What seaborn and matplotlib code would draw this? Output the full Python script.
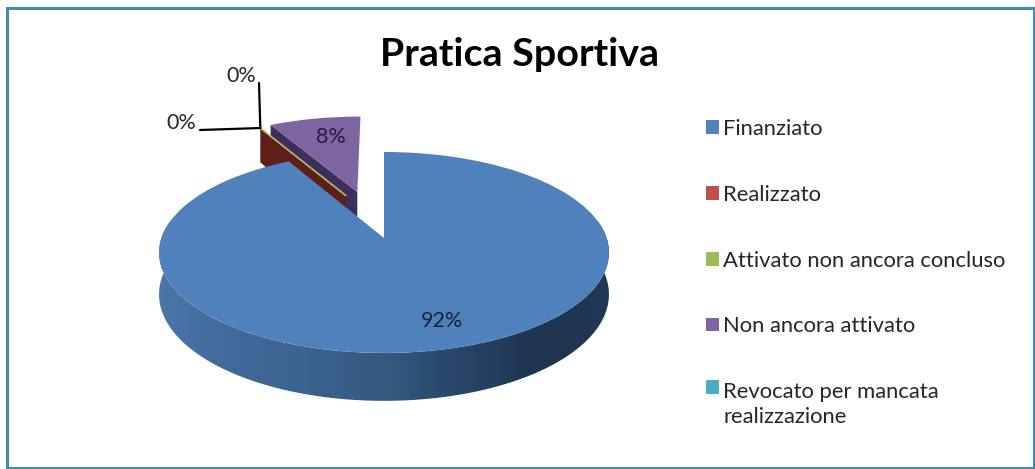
import numpy as np
import matplotlib
matplotlib.use('Agg')
import matplotlib.pyplot as plt
import matplotlib.transforms as mtransforms
from matplotlib.patches import Rectangle, Polygon
import seaborn as sns

title = 'Pratica Sportiva'
categories = ['Finanziato', 'Realizzato', 'Attivato non ancora concluso',
              'Non ancora attivato', 'Revocato per mancata\nrealizzazione']
values = [92, 0, 0, 8, 0]
explode = [0, 0.52, 0.52, 0.517, 0]
colors = ['#4f81bd', '#c0504d', '#9bbb59', '#8064a2', '#4bacc6']
wall_colors = ['#2b4a6c', '#5e1f1b', '#9bbb59', '#3c2f5c', '#2b6a7c']

# pie geometry in pixels: centre, radii, perspective strength, rim height
CX, CY = 384, 238
RX, RY = 222.6, 98.4
PERSP = 0.144
DEPTH = 41


class Perspective(mtransforms.Transform):
    # tilts the flat unit pie back so the far edge looks shorter
    input_dims = 2
    output_dims = 2
    is_separable = False

    def transform_non_affine(self, xy):
        xy = np.asarray(xy, dtype=float)
        w = 1 + PERSP * xy[:, 1]
        return np.column_stack([CX + RX * xy[:, 0] / w, CY - RY * xy[:, 1] / w])


def edge(persp, xy):
    # top and bottom outline of a wall standing under the points xy
    top = persp.transform_non_affine(xy)
    bottom = top.copy()
    bottom[:, 1] += DEPTH / (1 + PERSP * xy[:, 1])
    return top, bottom


sns.set_theme(style='white')
plt.rcParams['font.family'] = ['Lato', 'DejaVu Sans']

fig = plt.figure(figsize=(10.35, 4.69), dpi=100, facecolor='white')
ax = fig.add_axes([0, 0, 1, 1])

wedges, _ = ax.pie(values, explode=explode, colors=colors, startangle=90,
                   counterclock=False, radius=1, wedgeprops={'linewidth': 0})

persp = Perspective()
for w in wedges:
    w.set_transform(persp + ax.transData)
# the empty slices sit a little to the right of their explode line
for w in wedges[1:3]:
    w.set_center((w.center[0] + 0.07, w.center[1]))
wedges[2].set(edgecolor='#b5c267', linewidth=1.2)

wedges[3].set_zorder(3)
wedges[1].set_zorder(4)
wedges[2].set_zorder(6)
wedges[4].set_zorder(1)
wedges[0].set_zorder(9)

# cut walls of the pulled out slices, seen from the front
for i, z in [(3, 2), (1, 5)]:
    w = wedges[i]
    ang = np.radians(w.theta2)
    ends = np.array([w.center, (w.center[0] + np.cos(ang), w.center[1] + np.sin(ang))])
    top, bottom = edge(persp, ends)
    ax.fill(*np.vstack([top, bottom[::-1]]).T, color=wall_colors[i], lw=0, zorder=z)

# blue rim, shaded left to right
blue = wedges[0]
angs = np.radians(np.linspace(max(blue.theta1, -190), min(blue.theta2, 10), 200))
rim = np.column_stack([np.cos(angs), np.sin(angs)])
top, bottom = edge(persp, rim)
ramp = sns.blend_palette(['#4a76a8', '#42699a', '#3b6390', '#335a80', '#284668', '#1e3450', '#203852'], n_colors=256)
x0, x1 = top[:, 0].min(), top[:, 0].max()
y0, y1 = top[:, 1].min(), bottom[:, 1].max()
shade = ax.imshow(np.array(ramp)[np.newaxis, :, :], extent=(x0, x1, y1, y0), aspect='auto', zorder=8)
shade.set_clip_path(Polygon(np.vstack([top, bottom[::-1]]), transform=ax.transData))

ax.set_aspect('auto')
ax.set_xlim(0, 1035)
ax.set_ylim(469, 0)
ax.axis('off')

ax.text(520, 55, title, ha='center', va='center', fontsize=28.4, fontweight='bold', color='black')

pct = [f'{v / sum(values):.0%}' for v in values]
ax.text(442, 321, pct[0], ha='center', va='center', fontsize=15.5, color='#14233c', zorder=12)
ax.text(331, 137, pct[3], ha='center', va='center', fontsize=15.5, color='#241a3a', zorder=12)
ax.text(181, 123, pct[1], ha='center', va='center', fontsize=15.5, color='#262626', zorder=12)
ax.text(241, 76, pct[2], ha='center', va='center', fontsize=15.5, color='#262626', zorder=12)

# leader lines from the empty slices
w = wedges[1]
ang = np.radians(w.theta2)
anchor = persp.transform_non_affine(np.array([[w.center[0] + np.cos(ang), w.center[1] + np.sin(ang)]]))[0]
ax.plot([200, anchor[0]], [130, anchor[1]], color='black', lw=1.6, zorder=11)
ax.plot([259, anchor[0]], [83, anchor[1]], color='black', lw=1.6, zorder=11)

leg = ax.legend(wedges, categories, loc='upper left', bbox_to_anchor=(706 / 1035, 1 - 119 / 469),
                frameon=False, fontsize=15.85, labelspacing=2.08, handlelength=0.58, handleheight=0.58,
                handletextpad=0.2, borderaxespad=0, borderpad=0, labelcolor='#262626')
for t in leg.get_texts():
    t.set_linespacing(1.3)
# two line entry keeps its square beside the first line
leg.legend_handles[4].set_y(leg.legend_handles[4].get_y() + 13)
leg.legend_handles[2].set_linewidth(0)

ax.add_patch(Rectangle((6.5, 8), 1027, 460, fill=False, edgecolor='#3e8fa6', lw=2.2, zorder=20, clip_on=False))

fig.savefig('out.png', dpi=100)
